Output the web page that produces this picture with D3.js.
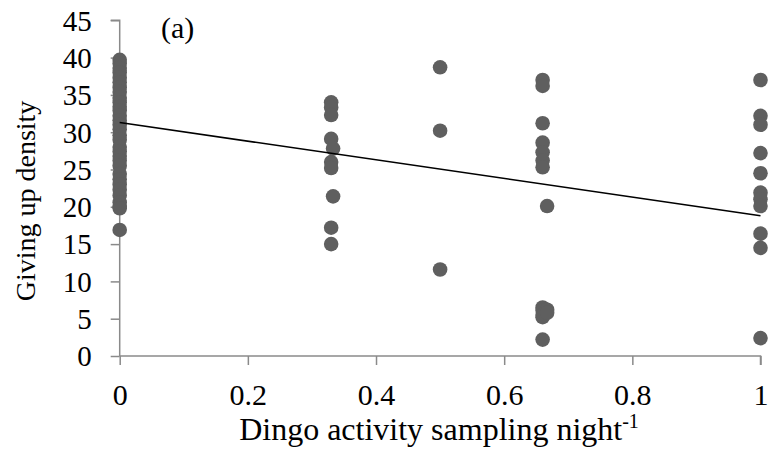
<!DOCTYPE html>
<html>
<head>
<meta charset="utf-8">
<script src="https://cdn.jsdelivr.net/npm/d3@7"></script>
<style>
  html, body { margin: 0; padding: 0; background: #fff; }
  svg { display: block; }
</style>
</head>
<body>
<svg id="chart" width="771" height="460"></svg>
<script>
// Dingo activity (x) against giving-up density (y), one group per activity level
const x0Values = [39.7, 39.2, 38.6, 38.0, 37.3, 36.7, 36.0, 35.4, 34.6, 34.0, 33.4, 32.9,
                  32.2, 31.6, 31.0, 30.4, 29.6, 29.0, 28.0, 27.4, 26.8, 26.2, 25.5, 24.4,
                  23.7, 23.0, 22.3, 21.5, 20.6, 20.1, 19.8, 16.9];
const x033Values = [34.0, 33.3, 32.3, 29.1, 26.0, 25.2, 17.2, 15.0];
const x0333Values = [27.8, 21.4];
const x050Values = [38.7, 30.2, 11.6];
const x066Values = [37.0, 36.2, 31.2, 28.6, 27.3, 26.2, 25.3, 6.5, 6.1, 5.5, 5.2, 2.2];
const x067Values = [20.1, 6.2, 5.8];
const x1Values = [37.0, 32.2, 31.0, 27.2, 24.5, 21.9, 21.0, 20.1, 16.4, 14.5, 2.4];

const groupX = [0, 0.33, 0.333, 0.5, 0.66, 0.667, 1];
const groupValues = [x0Values, x033Values, x0333Values, x050Values, x066Values, x067Values, x1Values];

// Fitted linear trend: value at x = 0 and at x = 1
const trendX = [0, 1];
const trendY = [31.3, 18.8];

const xTicks = [0, 0.2, 0.4, 0.6, 0.8, 1];
const yTicks = [0, 5, 10, 15, 20, 25, 30, 35, 40, 45];

const points = [];
groupX.forEach((gx, i) => groupValues[i].forEach(v => points.push({ x: gx, y: v })));

const serif = '"Liberation Serif", "Times New Roman", Times, serif';
const svg = d3.select("#chart");
const x = d3.scaleLinear().domain([0, 1]).range([119.7, 760.5]);
const y = d3.scaleLinear().domain([0, 45]).range([356, 20.3]);

const axisColor = "#8a8a8a";

// Y axis
const yAxis = svg.append("g")
  .attr("transform", `translate(${x(0)},0)`)
  .call(d3.axisLeft(y).tickValues(yTicks).tickSize(9).tickPadding(19).tickFormat(d3.format("d")));
yAxis.select(".domain").attr("stroke", axisColor).attr("stroke-width", 1.5)
  .attr("d", `M-9,${y(45)}H0V${y(0)}`);
yAxis.selectAll(".tick line").attr("stroke", axisColor).attr("stroke-width", 1.5);
yAxis.selectAll(".tick text").attr("fill", "#000").attr("dy", "0.34em")
  .style("font-family", serif).style("font-size", "29px");

// X axis
const xAxis = svg.append("g")
  .attr("transform", `translate(0,${y(0)})`)
  .call(d3.axisBottom(x).tickValues(xTicks).tickSize(9).tickPadding(17).tickFormat(d3.format("")));
xAxis.select(".domain").attr("stroke", axisColor).attr("stroke-width", 1.5)
  .attr("d", `M${x(0)},0H${x(1)}V9`);
xAxis.selectAll(".tick line").attr("stroke", axisColor).attr("stroke-width", 1.5);
xAxis.selectAll(".tick text").attr("fill", "#000").attr("dy", "0.76em")
  .style("font-family", serif).style("font-size", "30px");

// Points
svg.append("g").selectAll("circle").data(points).join("circle")
  .attr("cx", d => x(d.x))
  .attr("cy", d => y(d.y))
  .attr("r", 7.3)
  .attr("fill", "#5f5f5f");

// Trend line
svg.append("line")
  .attr("x1", x(trendX[0])).attr("y1", y(trendY[0]))
  .attr("x2", x(trendX[1])).attr("y2", y(trendY[1]))
  .attr("stroke", "#000").attr("stroke-width", 1.6);

// Panel label
svg.append("text").attr("x", 161).attr("y", 38)
  .style("font-family", serif).style("font-size", "30px").text("(a)");

// Axis titles
svg.append("text")
  .attr("transform", "translate(35,201) rotate(-90)")
  .attr("text-anchor", "middle")
  .style("font-family", serif).style("font-size", "28px")
  .text("Giving up density");

const xt = svg.append("text")
  .attr("x", 439).attr("y", 440)
  .attr("text-anchor", "middle")
  .style("font-family", serif).style("font-size", "32px");
xt.append("tspan").text("Dingo activity sampling night");
xt.append("tspan").attr("dy", -12).style("font-size", "20px").text("-1");
</script>
</body>
</html>
